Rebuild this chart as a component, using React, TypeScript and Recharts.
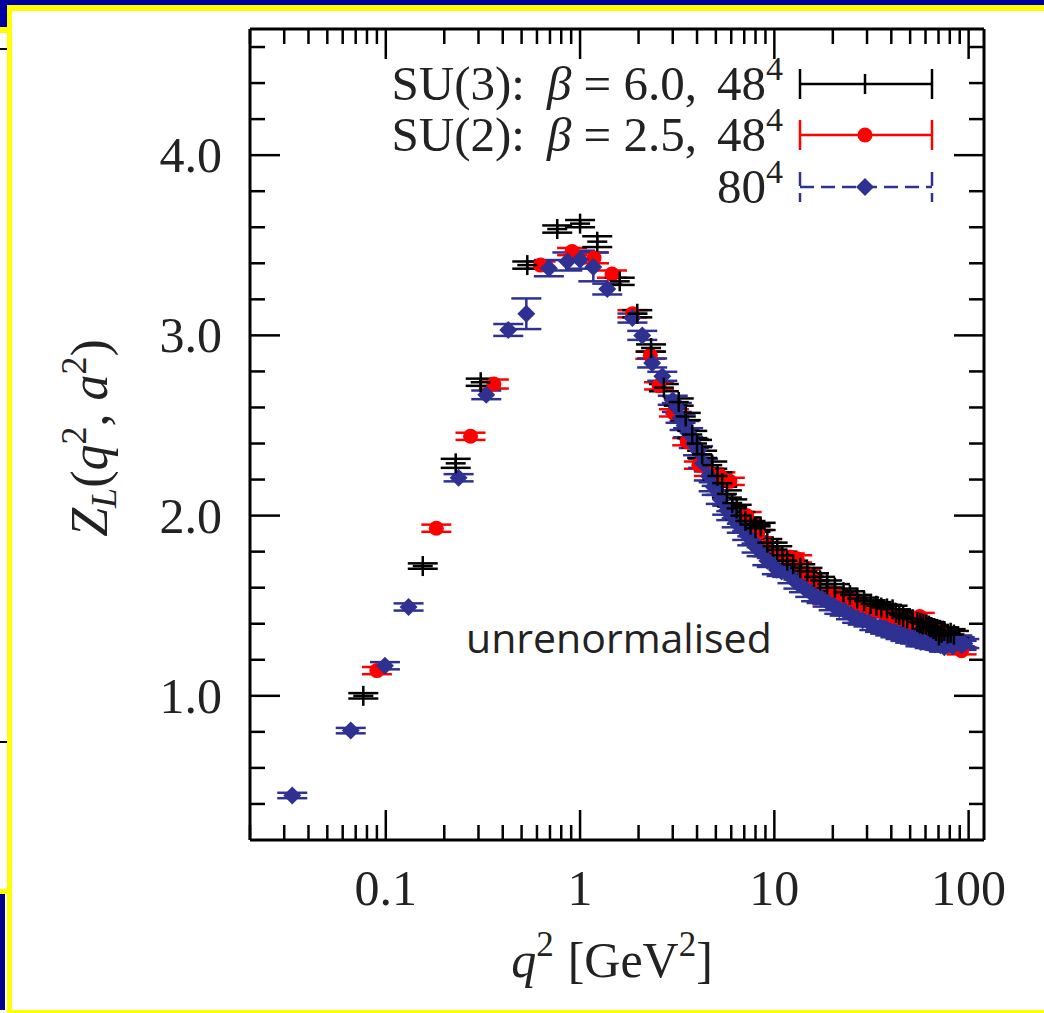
import React from 'react';
import { ScatterChart, Scatter, XAxis, YAxis, ErrorBar } from 'recharts';

// SU(3): beta = 6.0, 48^4  (black crosses)
const su3Q = [0.0766, 0.155, 0.229, 0.308, 0.535, 0.763, 1.0, 1.226, 1.6, 1.97, 2.32, 2.7, 3.22, 3.5, 3.78, 4.0, 4.25, 4.79, 5.1, 5.39, 5.7, 6.07, 6.4, 6.7, 7.1, 7.54, 8.0, 8.5, 9.2, 9.8, 10.35, 11.0, 11.65, 12.5, 13.6, 14.8, 16.0, 17.2, 18.7, 20.5, 22.7, 24.5, 26.7, 29.0, 31.3, 33.5, 35.5, 38.0, 40.6, 42.3, 44.0, 46.0, 48.3, 51.5, 54.5, 56.5, 58.5, 60.5, 62.5, 64.0, 66.0, 68.0, 70.3, 72.5, 75.0, 78.0, 80.8, 84.0];
const su3Z = [1.0, 1.72, 2.29, 2.74, 3.39, 3.59, 3.62, 3.52, 3.3, 3.12, 2.93, 2.71, 2.63, 2.55, 2.45, 2.4, 2.34, 2.28, 2.22, 2.18, 2.12, 2.07, 2.04, 2.0, 1.97, 1.95, 1.93, 1.94, 1.85, 1.83, 1.81, 1.78, 1.75, 1.73, 1.71, 1.69, 1.66, 1.64, 1.62, 1.6, 1.575, 1.56, 1.54, 1.525, 1.51, 1.5, 1.49, 1.485, 1.48, 1.46, 1.45, 1.44, 1.43, 1.425, 1.41, 1.405, 1.4, 1.395, 1.39, 1.38, 1.37, 1.36, 1.335, 1.35, 1.36, 1.345, 1.35, 1.34];
const su3Err = [0.015, 0.015, 0.025, 0.02, 0.02, 0.02, 0.02, 0.03, 0.02, 0.02, 0.02, 0.02, 0.02, 0.02, 0.02, 0.02, 0.02, 0.02, 0.02, 0.02, 0.02, 0.02, 0.02, 0.02, 0.02, 0.02, 0.02, 0.02, 0.02, 0.02, 0.02, 0.02, 0.02, 0.02, 0.02, 0.02, 0.02, 0.02, 0.02, 0.02, 0.02, 0.02, 0.02, 0.02, 0.02, 0.02, 0.02, 0.02, 0.02, 0.02, 0.02, 0.02, 0.02, 0.02, 0.02, 0.02, 0.02, 0.02, 0.02, 0.02, 0.02, 0.02, 0.02, 0.02, 0.02, 0.02, 0.02, 0.02];

// SU(2): beta = 2.5, 48^4  (red circles)
const su2Q = [0.09, 0.182, 0.273, 0.36, 0.626, 0.91, 1.18, 1.46, 1.86, 2.3, 2.55, 3.04, 3.56, 4.09, 4.6, 5.28, 5.9, 7.2, 8.2, 9.2, 10.5, 12.0, 13.1, 14.5, 16.0, 18.7, 20.0, 22.0, 25.0, 27.5, 30.0, 33.0, 37.0, 41.0, 45.0, 50.0, 56.0, 62.0, 68.0, 74.0, 80.0, 86.0, 92.0];
const su2Z = [1.14, 1.93, 2.44, 2.73, 3.39, 3.465, 3.43, 3.34, 3.12, 2.89, 2.72, 2.57, 2.41, 2.28, 2.24, 2.22, 2.19, 2.0, 1.9, 1.83, 1.78, 1.77, 1.76, 1.68, 1.64, 1.53, 1.57, 1.55, 1.53, 1.5, 1.49, 1.47, 1.46, 1.44, 1.43, 1.41, 1.44, 1.38, 1.36, 1.34, 1.32, 1.29, 1.25];
const su2Err = [0.02, 0.02, 0.02, 0.025, 0.02, 0.02, 0.03, 0.02, 0.02, 0.02, 0.02, 0.02, 0.02, 0.02, 0.02, 0.02, 0.02, 0.02, 0.02, 0.02, 0.02, 0.02, 0.02, 0.02, 0.02, 0.02, 0.02, 0.02, 0.02, 0.02, 0.02, 0.02, 0.02, 0.02, 0.02, 0.02, 0.02, 0.02, 0.02, 0.02, 0.02, 0.02, 0.02];

// SU(2): 80^4  (blue diamonds)
const b80Q = [0.033, 0.066, 0.099, 0.131, 0.237, 0.329, 0.427, 0.529, 0.691, 0.86, 1.0, 1.17, 1.38, 1.86, 2.09, 2.35, 2.65, 3.0, 3.15, 3.29, 3.45, 3.6, 3.85, 4.05, 4.3, 4.6, 4.87, 5.05, 5.3, 5.72, 6.0, 6.4, 6.8, 7.25, 7.7, 8.1, 8.6, 9.2, 9.7, 10.3, 10.9, 11.65, 12.4, 13.3, 14.2, 15.3, 16.4, 17.5, 18.8, 20.2, 21.6, 23.0, 24.8, 26.7, 28.5, 30.5, 32.7, 35.0, 37.2, 39.5, 42.0, 44.6, 47.3, 50.0, 53.0, 56.5, 59.5, 63.0, 67.0, 71.5, 75.0, 79.0, 83.0, 87.5, 90.0, 92.0, 95.0];
const b80Z = [0.447, 0.807, 1.167, 1.493, 2.21, 2.67, 3.03, 3.12, 3.373, 3.41, 3.42, 3.38, 3.257, 3.096, 3.0, 2.847, 2.773, 2.64, 2.6, 2.54, 2.5, 2.46, 2.4, 2.36, 2.29, 2.22, 2.16, 2.14, 2.09, 2.03, 2.0, 1.96, 1.93, 1.89, 1.86, 1.82, 1.8, 1.75, 1.74, 1.7, 1.69, 1.685, 1.65, 1.62, 1.6, 1.574, 1.55, 1.54, 1.52, 1.5, 1.48, 1.47, 1.45, 1.43, 1.42, 1.41, 1.39, 1.38, 1.37, 1.36, 1.35, 1.34, 1.33, 1.32, 1.315, 1.3, 1.3, 1.29, 1.285, 1.28, 1.27, 1.29, 1.275, 1.31, 1.3, 1.28, 1.29];
const b80Err = [0.015, 0.015, 0.02, 0.02, 0.02, 0.024, 0.033, 0.085, 0.045, 0.05, 0.05, 0.08, 0.03, 0.025, 0.025, 0.025, 0.025, 0.025, 0.025, 0.025, 0.025, 0.025, 0.025, 0.025, 0.025, 0.025, 0.025, 0.025, 0.025, 0.025, 0.025, 0.025, 0.025, 0.025, 0.025, 0.025, 0.025, 0.025, 0.025, 0.025, 0.025, 0.025, 0.025, 0.025, 0.025, 0.025, 0.025, 0.025, 0.025, 0.025, 0.025, 0.025, 0.025, 0.025, 0.025, 0.025, 0.025, 0.025, 0.025, 0.025, 0.025, 0.025, 0.025, 0.025, 0.025, 0.025, 0.025, 0.025, 0.025, 0.025, 0.025, 0.025, 0.025, 0.025, 0.025, 0.025, 0.025];

const xMajorTicks = [0.1, 1, 10, 100];
const xTickLabels = ['0.1', '1', '10', '100'];
const xMinorTicks = [0.02, 0.03, 0.04, 0.05, 0.06, 0.07, 0.08, 0.09, 0.2, 0.3, 0.4, 0.5, 0.6, 0.7, 0.8, 0.9, 2, 3, 4, 5, 6, 7, 8, 9, 20, 30, 40, 50, 60, 70, 80, 90];
const yMajorTicks = [1, 2, 3, 4];
const yTickLabels = ['1.0', '2.0', '3.0', '4.0'];
const yMinorTicks = [0.4, 0.6, 0.8, 1.2, 1.4, 1.6, 1.8, 2.2, 2.4, 2.6, 2.8, 3.2, 3.4, 3.6, 3.8, 4.2, 4.4, 4.6];

const legendLabels = ['SU(3):', 'SU(2):'];

const BLUE = '#2e3192';
const RED = '#ff0000';
const SERIF = '"Liberation Serif", "Times New Roman", serif';

const rows = (q: number[], z: number[], err: number[]) => q.map((v, i) => ({ q: v, z: z[i], err: err[i] }));
const su3Data = rows(su3Q, su3Z, su3Err);
const su2Data = rows(su2Q, su2Z, su2Err);
const b80Data = rows(b80Q, b80Z, b80Err);

// plot box edges (layout only)
const LEFT = 250;
const RIGHT = 984;
const TOP = 29;
const BOTTOM = 840;

const XTick = ({ x, payload, side }: any) => {
  const idx = xMajorTicks.indexOf(payload.value);
  const len = idx >= 0 ? 30 : 15;
  const bottom = side === 'bottom';
  const y = bottom ? BOTTOM : TOP;
  return (
    <g>
      <line x1={x} x2={x} y1={y} y2={bottom ? y - len : y + len} stroke="#000" strokeWidth={2.5} />
      {bottom && idx >= 0 && (
        <text x={x} y={y + 65} textAnchor="middle" fontFamily={SERIF} fontSize={50} fill="#222">
          {xTickLabels[idx]}
        </text>
      )}
    </g>
  );
};

const YTick = ({ y, payload, side }: any) => {
  const idx = yMajorTicks.indexOf(payload.value);
  const len = idx >= 0 ? 30 : 15;
  const left = side === 'left';
  const x = left ? LEFT : RIGHT;
  return (
    <g>
      <line x1={x} x2={left ? x + len : x - len} y1={y} y2={y} stroke="#000" strokeWidth={2.5} />
      {left && idx >= 0 && (
        <text x={x - 28} y={y + 17} textAnchor="end" fontFamily={SERIF} fontSize={50} fill="#222">
          {yTickLabels[idx]}
        </text>
      )}
    </g>
  );
};

const Plus = ({ cx, cy }: any) => (
  <g stroke="#000" strokeWidth={2.5}>
    <line x1={cx - 10} x2={cx + 10} y1={cy} y2={cy} />
    <line x1={cx} x2={cx} y1={cy - 10} y2={cy + 10} />
  </g>
);
const Dot = ({ cx, cy }: any) => <circle cx={cx} cy={cy} r={7.5} fill={RED} />;
const Diamond = ({ cx, cy }: any) => (
  <path d={`M${cx},${cy - 9}L${cx + 9},${cy}L${cx},${cy + 9}L${cx - 9},${cy}Z`} fill={BLUE} />
);

const Frame = () => (
  <>
    <div style={{ position: 'absolute', left: 0, top: 0, width: 1044, height: 5, background: '#0000a0' }} />
    <div style={{ position: 'absolute', left: 0, top: 0, width: 7, height: 27, background: '#0000a0' }} />
    <div style={{ position: 'absolute', left: 7, top: 5, width: 1037, height: 6, background: '#ffff00' }} />
    <div style={{ position: 'absolute', left: 0, top: 27, width: 7, height: 6, background: '#ffff00' }} />
    <div style={{ position: 'absolute', left: 7, top: 5, width: 5, height: 1008, background: '#ffff00' }} />
    <div style={{ position: 'absolute', left: 0, top: 889, width: 7, height: 5, background: '#ffff00' }} />
    <div style={{ position: 'absolute', left: 0, top: 894, width: 5, height: 116, background: '#00008b' }} />
    <div style={{ position: 'absolute', left: 7, top: 1010, width: 1037, height: 3, background: '#ffff00' }} />
    <div style={{ position: 'absolute', left: 0, top: 48, width: 7, height: 2, background: '#000' }} />
    <div style={{ position: 'absolute', left: 0, top: 741, width: 7, height: 2, background: '#000' }} />
  </>
);

const Overlay = () => (
  <svg width={1044} height={1013} style={{ position: 'absolute', left: 0, top: 0, pointerEvents: 'none' }}>
    {/* legend */}
    <g fontFamily={SERIF} fontSize={49} fill="#222" textAnchor="end">
      <text x={783} y={100}>
        {legendLabels[0]}<tspan dx={22} fontStyle="italic">β</tspan> = 6.0,<tspan dx={20}>48</tspan>
        <tspan fontSize={34} dy={-20}>4</tspan>
      </text>
      <text x={783} y={151}>
        {legendLabels[1]}<tspan dx={22} fontStyle="italic">β</tspan> = 2.5,<tspan dx={20}>48</tspan>
        <tspan fontSize={34} dy={-20}>4</tspan>
      </text>
      <text x={783} y={203}>
        80<tspan fontSize={34} dy={-20}>4</tspan>
      </text>
    </g>
    <g stroke="#000" strokeWidth={2.5}>
      <line x1={800} x2={932} y1={84} y2={84} />
      <line x1={800} x2={800} y1={69} y2={99} />
      <line x1={932} x2={932} y1={69} y2={99} />
      <line x1={865} x2={865} y1={74} y2={94} />
    </g>
    <g stroke={RED} strokeWidth={2.5}>
      <line x1={800} x2={932} y1={135} y2={135} />
      <line x1={800} x2={800} y1={120} y2={150} />
      <line x1={932} x2={932} y1={120} y2={150} />
    </g>
    <circle cx={865} cy={135} r={7.5} fill={RED} />
    <g stroke={BLUE} strokeWidth={2.5} strokeDasharray="14 7">
      <line x1={800} x2={932} y1={187} y2={187} />
      <line x1={800} x2={800} y1={172} y2={202} />
      <line x1={932} x2={932} y1={172} y2={202} />
    </g>
    <path d="M865,178L874,187L865,196L856,187Z" fill={BLUE} />

    {/* annotation */}
    <text x={466} y={653} fontFamily='"Open Sans", sans-serif' fontSize={41} fill="#222">
      unrenormalised
    </text>

    {/* axis titles */}
    <text transform="translate(107,438) rotate(-90)" textAnchor="middle" fontFamily={SERIF} fontSize={52} fill="#222">
      <tspan fontStyle="italic">Z</tspan>
      <tspan fontStyle="italic" fontSize={36} dy={9}>L</tspan>
      <tspan dy={-9}>(</tspan>
      <tspan fontStyle="italic">q</tspan>
      <tspan fontSize={36} dy={-21}>2</tspan>
      <tspan dy={21}>, </tspan>
      <tspan fontStyle="italic">a</tspan>
      <tspan fontSize={36} dy={-21}>2</tspan>
      <tspan dy={21}>)</tspan>
    </text>
    <text x={612} y={977} textAnchor="middle" fontFamily={SERIF} fontSize={50} fill="#222">
      <tspan fontStyle="italic">q</tspan>
      <tspan fontSize={35} dy={-21}>2</tspan>
      <tspan dy={21} dx={14}>[GeV</tspan>
      <tspan fontSize={35} dy={-21}>2</tspan>
      <tspan dy={21}>]</tspan>
    </text>
  </svg>
);

const axisLine = { stroke: '#000', strokeWidth: 3 };

export default function App() {
  return (
    <div style={{ position: 'absolute', left: 0, top: 0, width: 1044, height: 1013, background: '#fff', overflow: 'hidden' }}>
      <Frame />
      <ScatterChart width={1044} height={1013} margin={{ top: 19, right: 50, bottom: 163, left: 240 }}>
        <XAxis
          xAxisId="b"
          type="number"
          dataKey="q"
          scale="log"
          domain={[0.02, 120]}
          allowDataOverflow
          ticks={[...xMinorTicks, ...xMajorTicks]}
          interval={0}
          height={10}
          tickLine={false}
          axisLine={axisLine}
          tick={(p: any) => <XTick {...p} side="bottom" />}
        />
        <XAxis
          xAxisId="t"
          orientation="top"
          type="number"
          dataKey="q"
          scale="log"
          domain={[0.02, 120]}
          allowDataOverflow
          ticks={[...xMinorTicks, ...xMajorTicks]}
          interval={0}
          height={10}
          tickLine={false}
          axisLine={axisLine}
          tick={(p: any) => <XTick {...p} side="top" />}
        />
        <YAxis
          yAxisId="l"
          type="number"
          dataKey="z"
          domain={[0.2, 4.7]}
          allowDataOverflow
          ticks={[...yMinorTicks, ...yMajorTicks]}
          interval={0}
          width={10}
          tickLine={false}
          axisLine={axisLine}
          tick={(p: any) => <YTick {...p} side="left" />}
        />
        <YAxis
          yAxisId="r"
          orientation="right"
          type="number"
          dataKey="z"
          domain={[0.2, 4.7]}
          allowDataOverflow
          ticks={[...yMinorTicks, ...yMajorTicks]}
          interval={0}
          width={10}
          tickLine={false}
          axisLine={axisLine}
          tick={(p: any) => <YTick {...p} side="right" />}
        />
        <Scatter name="SU(2) 48^4" data={su2Data} xAxisId="b" yAxisId="l" shape={Dot} isAnimationActive={false}>
          <ErrorBar dataKey="err" direction="y" width={15} stroke={RED} strokeWidth={2.5} />
        </Scatter>
        <Scatter name="80^4" data={b80Data} xAxisId="b" yAxisId="l" shape={Diamond} isAnimationActive={false}>
          <ErrorBar dataKey="err" direction="y" width={15} stroke={BLUE} strokeWidth={2.5} />
        </Scatter>
        <Scatter name="SU(3) 48^4" data={su3Data} xAxisId="b" yAxisId="l" shape={Plus} isAnimationActive={false}>
          <ErrorBar dataKey="err" direction="y" width={15} stroke="#000" strokeWidth={2.5} />
        </Scatter>
      </ScatterChart>
      <Overlay />
    </div>
  );
}
